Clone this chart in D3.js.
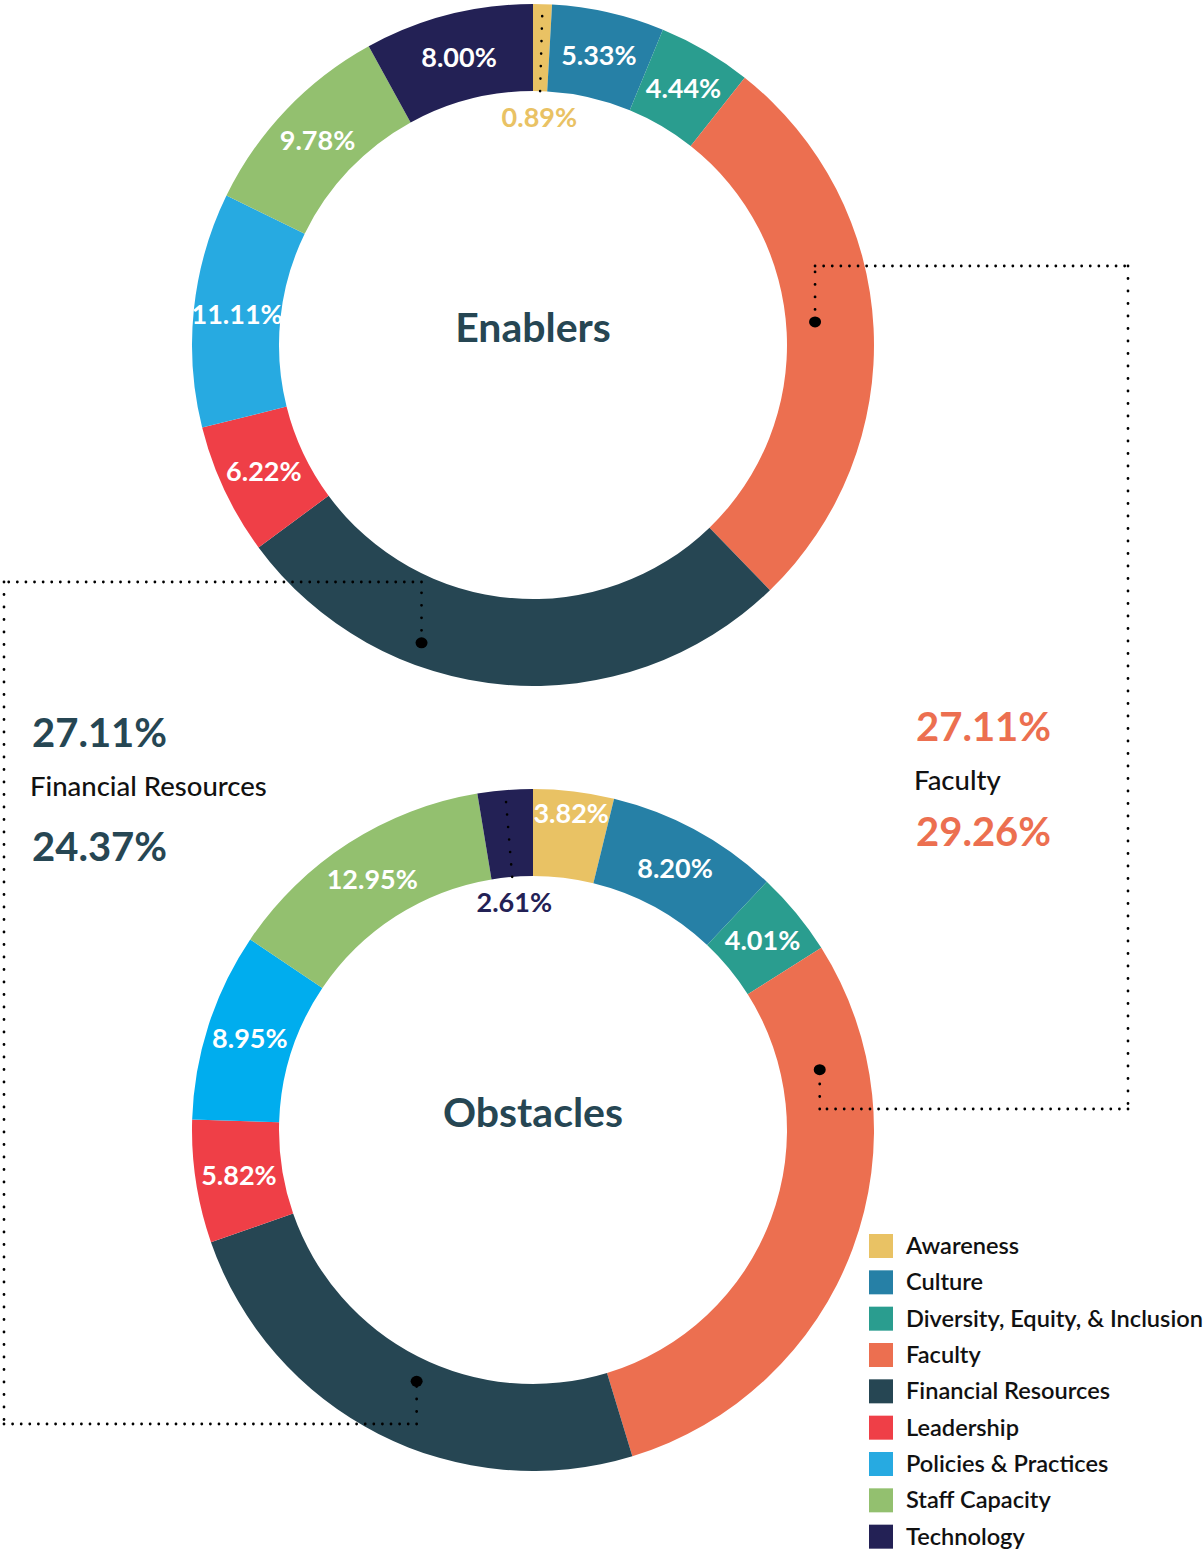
<!DOCTYPE html>
<html>
<head>
<meta charset="utf-8">
<script src="https://cdn.jsdelivr.net/npm/d3@7"></script>
<style>
  body { margin: 0; background: #fff; }
  text { font-family: "Lato", "Noto Sans", sans-serif; }
</style>
</head>
<body>
<svg id="chart"></svg>
<script>
// Categories and colours
const categories = ["Awareness", "Culture", "Diversity, Equity, & Inclusion", "Faculty",
    "Financial Resources", "Leadership", "Policies & Practices", "Staff Capacity", "Technology"];
const colors = ["#e9c264", "#2680a6", "#2a9d8f", "#ec6f50", "#264653", "#ef3f47", "#27aae1", "#93c06f", "#232155"];
const obstacleColors = ["#e9c264", "#2680a6", "#2a9d8f", "#ec6f50", "#264653", "#ef3f47", "#00adee", "#93c06f", "#232155"];

// Series values (percent)
const enablers = [0.89, 5.33, 4.44, 27.11, 27.11, 6.22, 11.11, 9.78, 8.00];
const obstacles = [3.82, 8.20, 4.01, 29.26, 24.37, 5.82, 8.95, 12.95, 2.61];

// these two are called out at the side instead of on the ring
const calledOut = [3, 4];

const width = 1203;
const height = 1553;
const svg = d3.select("#chart").attr("width", width).attr("height", height);

const outerR = 341;
const innerR = 254;
const labelR = 297.5;

const charts = [
    { title: "Enablers", values: enablers, colors: colors, cx: 533, cy: 345,
      // slices whose label sits inside the hole, with a dotted leader
      inside: { 0: 228 }, push: {} },
    { title: "Obstacles", values: obstacles, colors: obstacleColors, cx: 533, cy: 1130,
      inside: { 8: 229 }, push: { 0: 319 } }
];

const pie = d3.pie().sort(null).value((d) => d);
const arc = d3.arc().innerRadius(innerR).outerRadius(outerR);
// percent (0-100) -> angle
const angle = d3.scaleLinear().domain([0, 100]).range([0, 2 * Math.PI]);
const polar = (c, pct, r) => [c.cx + r * Math.sin(angle(pct)), c.cy - r * Math.cos(angle(pct))];

charts.forEach((c) => {
    const g = svg.append("g").attr("transform", `translate(${c.cx},${c.cy})`);
    const arcs = pie(c.values);

    g.selectAll("path")
        .data(arcs)
        .enter()
        .append("path")
        .attr("d", arc)
        .attr("fill", (d, i) => c.colors[i]);

    arcs.forEach((d, i) => {
        if (calledOut.includes(i)) return;
        const mid = (d.startAngle + d.endAngle) / 2;
        let r = labelR;
        let fill = "#fff";
        if (c.inside[i] !== undefined) {
            r = c.inside[i];
            fill = c.colors[i];
            g.append("line")
                .attr("x1", (outerR - 12) * Math.sin(mid))
                .attr("y1", -(outerR - 12) * Math.cos(mid))
                .attr("x2", (innerR - 12) * Math.sin(mid))
                .attr("y2", -(innerR - 12) * Math.cos(mid))
                .attr("stroke", "#000")
                .attr("stroke-width", 2.6)
                .attr("stroke-linecap", "round")
                .attr("stroke-dasharray", "0 12.5");
        } else if (c.push[i] !== undefined) {
            r = c.push[i];
        }
        g.append("text")
            .attr("x", r * Math.sin(mid))
            .attr("y", -r * Math.cos(mid))
            .attr("dy", "0.36em")
            .attr("text-anchor", "middle")
            .attr("font-size", 27)
            .attr("font-weight", 700)
            .attr("fill", fill)
            .text(c.values[i].toFixed(2) + "%");
    });

    g.append("text")
        .attr("y", -18)
        .attr("dy", "0.36em")
        .attr("text-anchor", "middle")
        .attr("font-size", 41)
        .attr("font-weight", 700)
        .attr("fill", "#264653")
        .text(c.title);
});

// Dotted connectors between matching slices (anchor: percent position, radius)
const connectors = [
    { top: [23.7, 283], bottom: [21.7, 293], yTop: 266, xSide: 1128, yBottom: 1109 },
    { top: [55.7, 318], bottom: [56.9, 277], yTop: 582, xSide: 4, yBottom: 1424 }
];

const dotted = (x1, y1, x2, y2) => {
    const gap = x1 === x2 ? 12.5 : 8.6;
    svg.append("line")
        .attr("x1", x1).attr("y1", y1).attr("x2", x2).attr("y2", y2)
        .attr("stroke", "#000")
        .attr("stroke-width", 2.8)
        .attr("stroke-linecap", "round")
        .attr("stroke-dasharray", `0 ${gap}`);
};

connectors.forEach((k) => {
    const a = polar(charts[0], k.top[0], k.top[1]);
    const b = polar(charts[1], k.bottom[0], k.bottom[1]);
    dotted(a[0], a[1], a[0], k.yTop);
    dotted(a[0], k.yTop, k.xSide, k.yTop);
    dotted(k.xSide, k.yTop, k.xSide, k.yBottom);
    dotted(k.xSide, k.yBottom, b[0], k.yBottom);
    dotted(b[0], k.yBottom, b[0], b[1]);
    [a, b].forEach((p) => {
        svg.append("ellipse")
            .attr("cx", p[0]).attr("cy", p[1])
            .attr("rx", 6).attr("ry", 5.5)
            .attr("fill", "#000");
    });
});

// Side annotations
const sideNotes = [
    { idx: 4, x: 32, y: 747, nameDy: 49, lastDy: 114, color: "#264653" },
    { idx: 3, x: 916, y: 741, nameDy: 49, lastDy: 105, color: "#ec6f50" }
];
sideNotes.forEach((s) => {
    svg.append("text")
        .attr("x", s.x).attr("y", s.y)
        .attr("font-size", 40).attr("font-weight", 700)
        .attr("fill", s.color)
        .text(enablers[s.idx].toFixed(2) + "%");
    svg.append("text")
        .attr("x", s.x - 2).attr("y", s.y + s.nameDy)
        .attr("font-size", 27.5).attr("font-weight", 500)
        .attr("fill", "#111")
        .text(categories[s.idx]);
    svg.append("text")
        .attr("x", s.x).attr("y", s.y + s.lastDy)
        .attr("font-size", 40).attr("font-weight", 700)
        .attr("fill", s.color)
        .text(obstacles[s.idx].toFixed(2) + "%");
});

// Legend
const legendY = d3.scaleBand().domain(categories).range([1234, 1561]);
const legend = svg.append("g").selectAll("g")
    .data(categories)
    .enter()
    .append("g")
    .attr("transform", (d) => `translate(869,${legendY(d)})`);

legend.append("rect")
    .attr("width", 24).attr("height", 24)
    .attr("fill", (d, i) => colors[i]);

legend.append("text")
    .attr("x", 37).attr("y", 12)
    .attr("dy", "0.34em")
    .attr("font-size", 23.6)
    .attr("font-weight", 600)
    .attr("fill", "#111")
    .text((d) => d);
</script>
</body>
</html>
